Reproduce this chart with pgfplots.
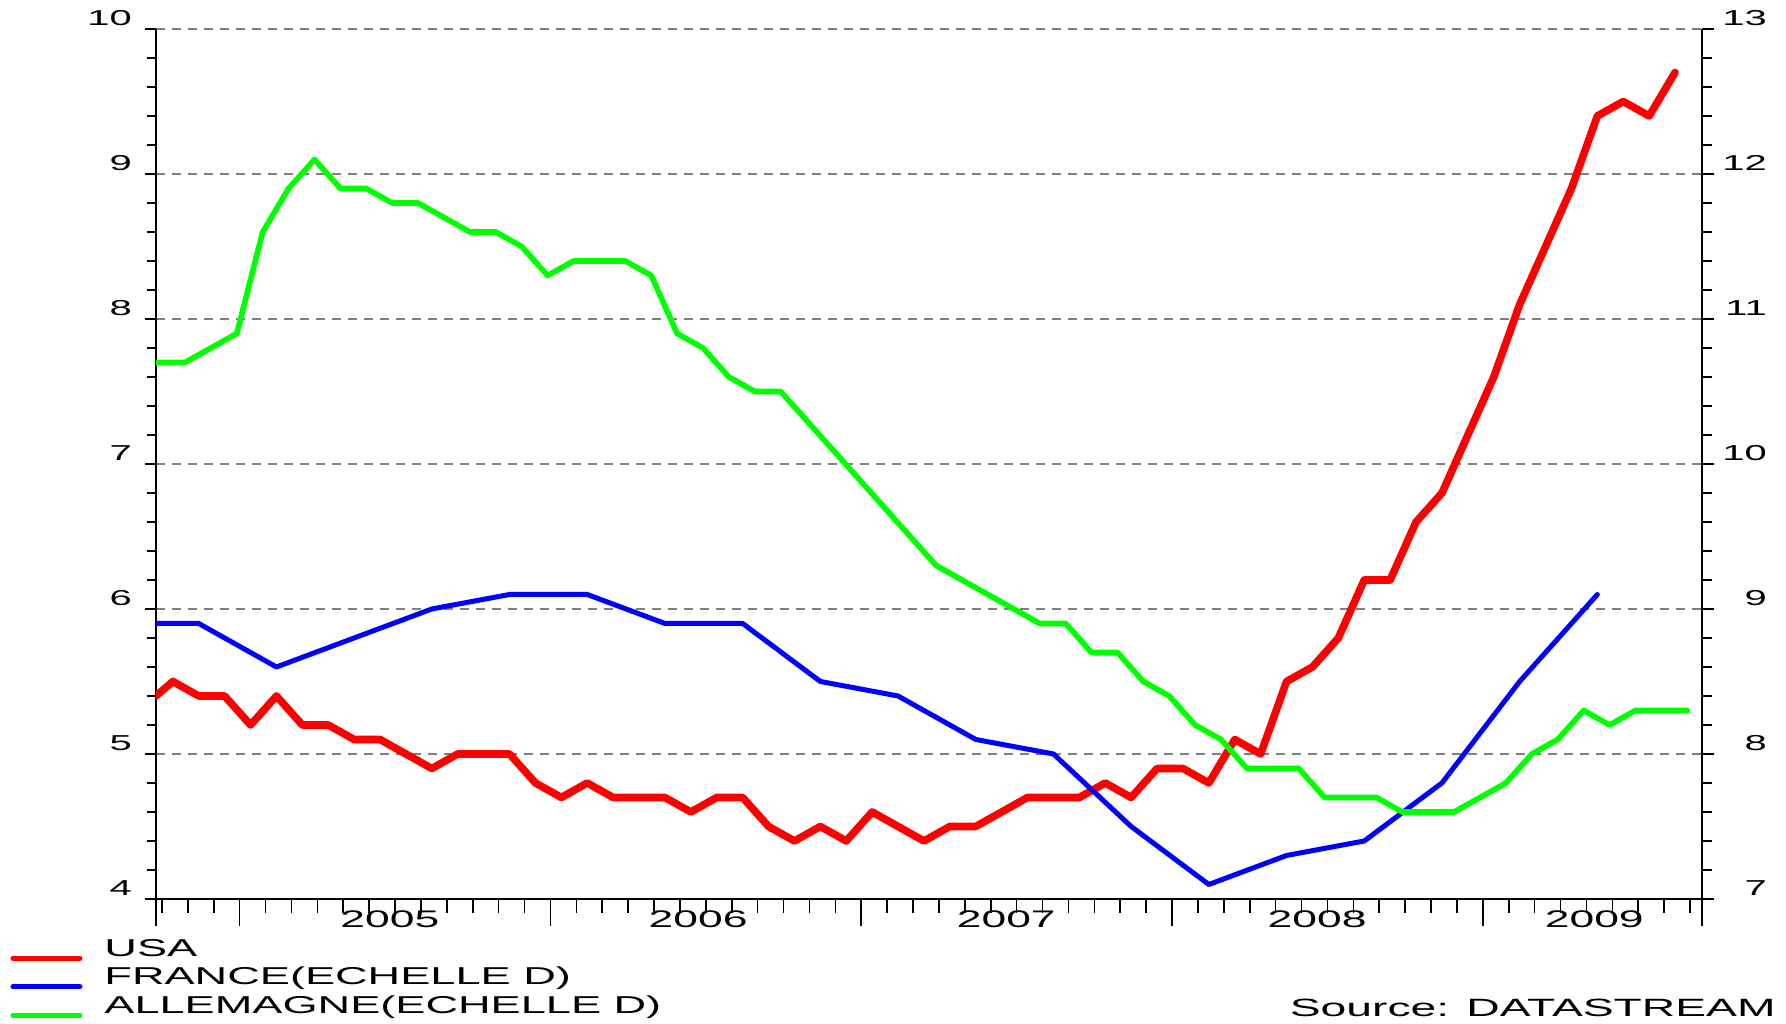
\documentclass[border=0pt]{standalone}
\usepackage{pgfplots}
\pgfplotsset{compat=1.18}
\usepackage{fontspec}
\setmainfont{Liberation Sans}[FakeStretch=1.85]
\definecolor{usared}{RGB}{255,0,0}
\definecolor{frblue}{RGB}{0,0,255}
\definecolor{degreen}{RGB}{0,255,0}
\begin{document}
\begin{tikzpicture}
\pgfplotsset{
  base/.style={scale only axis, width=773pt, height=435pt,
    xmin=-0.23, xmax=59.46, clip=true,
    /pgf/number format/assume math mode=true,
    tick align=outside,
    axis line style={-, line width=0.9pt, black},
    every tick/.style={black, line width=0.8pt},
  },
}
% USA, left axis
\begin{axis}[base, name=main,
  ymin=4, ymax=10, axis y line*=left, axis x line=none,
  ytick={4,...,10}, minor y tick num=4,
  major tick length=5.5pt, minor tick length=4.7pt,
  ymajorgrids, major grid style={black!50, line width=0.6pt, dash pattern=on 4.5pt off 3.5pt},
  yticklabel style={font=\fontsize{10.8}{12}\selectfont, anchor=base east, xshift=-3pt, yshift=1.5pt},
]
\addplot[usared, line width=3.8pt, line join=round, line cap=round] coordinates {
(-0.23,5.4)(0.42,5.5)(1.42,5.4)(2.42,5.4)(3.42,5.2)(4.42,5.4)(5.42,5.2)(6.42,5.2)(7.42,5.1)(8.42,5.1)(9.42,5.0)
(10.42,4.9)(11.42,5.0)(12.42,5.0)(13.42,5.0)(14.42,4.8)(15.42,4.7)(16.42,4.8)(17.42,4.7)(18.42,4.7)(19.42,4.7)
(20.42,4.6)(21.42,4.7)(22.42,4.7)(23.42,4.5)(24.42,4.4)(25.42,4.5)(26.42,4.4)(27.42,4.6)(28.42,4.5)(29.42,4.4)
(30.42,4.5)(31.42,4.5)(32.42,4.6)(33.42,4.7)(34.42,4.7)(35.42,4.7)(36.42,4.8)(37.42,4.7)(38.42,4.9)(39.42,4.9)
(40.42,4.8)(41.42,5.1)(42.42,5.0)(43.42,5.5)(44.42,5.6)(45.42,5.8)(46.42,6.2)(47.42,6.2)(48.42,6.6)(49.42,6.8)
(50.42,7.2)(51.42,7.6)(52.42,8.1)(53.42,8.5)(54.42,8.9)(55.42,9.4)(56.42,9.5)(57.42,9.4)(58.42,9.7)
};
\end{axis}
% France and Germany, right axis
\begin{axis}[base,
  ymin=7, ymax=13, axis y line*=right, axis x line=none,
  ytick={7,...,13}, minor y tick num=4,
  major tick length=6pt, minor tick length=5pt,
  yticklabel style={font=\fontsize{10.8}{12}\selectfont, anchor=base east, xshift=30pt, yshift=1.5pt},
  legend style={at={(rel axis cs:-0.0944,-0.0448)}, anchor=north west, draw=none, fill=none,
    inner sep=0pt, row sep=3pt, column sep=11pt,
    font=\fontsize{12.2}{14}\selectfont,
    nodes={inner sep=0pt, text height=9pt, text depth=2pt}},
  legend cell align=left,
  legend image code/.code={\draw[#1, line width=2.5pt, line cap=round] (0pt,-4.5pt) -- (33.5pt,-4.5pt);},
]
\addlegendimage{usared}
\addplot[frblue, line width=2.5pt, line join=round, line cap=round] coordinates {
(-0.23,8.9)(1.42,8.9)(4.42,8.6)(7.42,8.8)(10.42,9.0)(13.42,9.1)(16.42,9.1)(19.42,8.9)(22.42,8.9)(25.42,8.5)
(28.42,8.4)(31.42,8.1)(34.42,8.0)(37.42,7.5)(40.42,7.1)(43.42,7.3)(46.42,7.4)(49.42,7.8)(52.42,8.5)(55.42,9.1)
};
\addplot[degreen, line width=2.8pt, line join=round, line cap=round] coordinates {
(-0.23,10.7)(0.89,10.7)(1.89,10.8)(2.89,10.9)(3.89,11.6)(4.89,11.9)(5.89,12.1)(6.89,11.9)(7.89,11.9)(8.89,11.8)
(9.89,11.8)(10.89,11.7)(11.89,11.6)(12.89,11.6)(13.89,11.5)(14.89,11.3)(15.89,11.4)(16.89,11.4)(17.89,11.4)(18.89,11.3)
(19.89,10.9)(20.89,10.8)(21.89,10.6)(22.89,10.5)(23.89,10.5)(24.89,10.3)(25.89,10.1)(26.89,9.9)(27.89,9.7)(28.89,9.5)
(29.89,9.3)(30.89,9.2)(31.89,9.1)(32.89,9.0)(33.89,8.9)(34.89,8.9)(35.89,8.7)(36.89,8.7)(37.89,8.5)(38.89,8.4)
(39.89,8.2)(40.89,8.1)(41.89,7.9)(42.89,7.9)(43.89,7.9)(44.89,7.7)(45.89,7.7)(46.89,7.7)(47.89,7.6)(48.89,7.6)
(49.89,7.6)(50.89,7.7)(51.89,7.8)(52.89,8.0)(53.89,8.1)(54.89,8.3)(55.89,8.2)(56.89,8.3)(57.89,8.3)(58.89,8.3)
};
\legend{USA, FRANCE(ECHELLE D), ALLEMAGNE(ECHELLE D)}
\end{axis}
% x axis ticks and labels
\begin{axis}[base,
  ymin=0, ymax=1, axis y line=none, axis x line*=bottom,
  xtick={-0.23,3,15,27,39,51,59.46}, xticklabels={},
  minor xtick={0,...,59},
  major tick length=13.5pt, minor tick length=7pt,
  extra x ticks={8.8,20.7,32.6,44.6,55.3},
  extra x tick labels={2005,2006,2007,2008,2009},
  extra x tick style={tick style={draw=none}},
  xticklabel style={font=\fontsize{12}{14}\selectfont, anchor=base, yshift=-1pt},
]
\end{axis}
\node[anchor=base east, font=\fontsize{12.5}{14}\selectfont, inner sep=0pt] at ([shift={(37pt,-59pt)}]main.south east) {Source: DATASTREAM};
\pgfresetboundingbox
\useasboundingbox ([shift={(-78pt,-62.5pt)}]main.south west) rectangle ([shift={(42pt,14.5pt)}]main.north east);
\end{tikzpicture}
\end{document}
